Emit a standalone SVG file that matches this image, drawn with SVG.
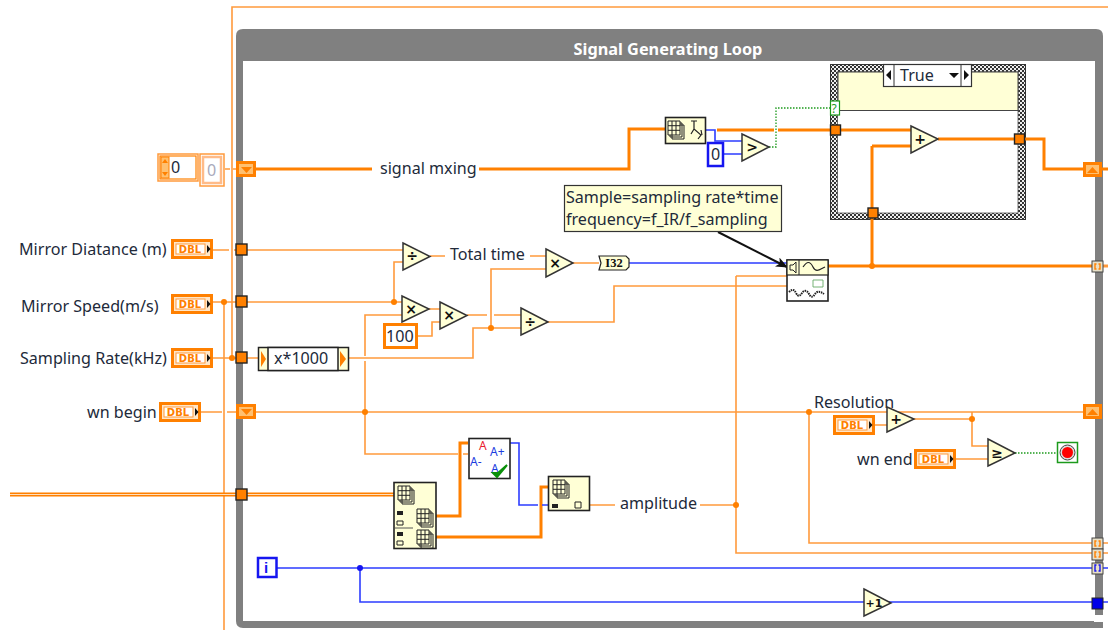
<svg xmlns="http://www.w3.org/2000/svg" width="1108" height="630" viewBox="0 0 1108 630">
<style>
text{font-family:"Noto Sans","Open Sans","DejaVu Sans",sans-serif;font-size:16.100px;fill:#222a3a}
.w{fill:none;stroke:#ff9a3c;stroke-width:1.6}
.t{fill:none;stroke:#ff8000;stroke-width:3}
.b{fill:none;stroke:#2d3dff;stroke-width:1.6}
.g{fill:none;stroke:#1c9a1c;stroke-width:1.3;stroke-dasharray:1.5 1.5}
.d{fill:#ff8000}
.db{fill:#1616f0}
.tri{fill:#ffffd6;stroke:#333;stroke-width:1.5}
.op{font-family:"DejaVu Sans",sans-serif;font-weight:bold;font-size:14px;fill:#111;text-anchor:middle}
.tun{fill:#ff8000;stroke:#222;stroke-width:1.4}
.sr{fill:#ffc070;stroke:#ff8000;stroke-width:3}
.icon{fill:#ffffd6;stroke:#222;stroke-width:1.6}
.dbltxt{font-family:"DejaVu Sans",sans-serif;font-weight:bold;font-size:10px;fill:#ff8000}
.idx{fill:#ffffd6;stroke:#222;stroke-width:1}
.br{fill:#e8e0c8;stroke:#444;stroke-width:1}
.sm{font-size:12px;fill:#1c3ce0}
</style>
<defs>
<pattern id="chk" width="4" height="4" patternUnits="userSpaceOnUse"><rect width="4" height="4" fill="#eee"/><rect width="2" height="2" fill="#333"/><rect x="2" y="2" width="2" height="2" fill="#333"/></pattern>
<g id="dbl"><rect x="1.5" y="1.5" width="39" height="17" fill="#ffe6c8" stroke="#ff8000" stroke-width="3"/><rect x="5" y="5" width="29" height="10" fill="#fff" stroke="#ff9a3c"/><text x="19" y="14" class="dbltxt" text-anchor="middle">DBL</text><path d="M36 6l3.5 4-3.5 4z" fill="#111"/></g>
<g id="grid"><path d="M4 4h12v14H4zM2 2h12v14H2z" fill="#ffffd6" stroke="#222" stroke-width="1"/><path d="M0 0h12v14H0zM0 4.700h12M0 9.300h12M4 0v14M8 0v14" fill="#ffffd6" stroke="#222" stroke-width="1"/></g>
<g id="brO"><rect width="11" height="11" class="br"/><path d="M4.500 3H3v5h1.500M6.500 3H8v5H6.500" fill="none" stroke="#ff8000" stroke-width="1.400"/></g>
<marker id="ah" markerWidth="12" markerHeight="10" refX="11" refY="5" orient="auto" markerUnits="userSpaceOnUse"><path d="M0 0L12 5 0 10 3 5z" fill="#111"/></marker>
</defs>
<rect width="1108" height="630" fill="#fff"/>

<g id="loop-frame">
<path d="M236 621V36q0-7 7-7h853q7 0 7 7v579h-8V61H243V621H1094v1h9v6H243q-7 0-7-7z" fill="#808080"/>
<text x="668" y="55" text-anchor="middle" style="font-size:16.300px;font-weight:bold;fill:#fff">Signal Generating Loop</text>
</g>

<g id="case">
<rect x="830.500" y="64.500" width="195" height="155" fill="url(#chk)" stroke="#333"/>
<rect x="837.500" y="72" width="180.500" height="141" fill="#fff" stroke="#555" stroke-width="0.800"/>
<rect x="838" y="72" width="180" height="38.500" fill="#ffffd6" stroke="#444"/>
<rect x="883.500" y="64.500" width="88" height="22" fill="#fff" stroke="#333" stroke-width="1.200"/><path d="M894 65v21M961 65v21" stroke="#333"/><path d="M891 70l-5 5 5 5zM964 70l5 5-5 5zM949 73h10l-5 5z" fill="#111"/>
<text x="900" y="81">True</text>
<rect x="830.500" y="101" width="9" height="14" fill="#fff" stroke="#1c9a1c" stroke-width="1.200"/><text x="831.500" y="113" style="font-size:12px;fill:#1c9a1c">?</text>
</g>

<g id="connectors">
<path class="w" d="M1108 7H232V358M224 302V630M213 250H229M234 250H236M213 302H236M213 358H236M201 412H222M227 412H236M225 169H230M233 169H236"/>
<path class="w" d="M241 250H403M241 302H402M394 302V262H403M430 256H445M530 256H546M573 263H599"/>
<path class="w" d="M402 315H365V356M365 361V454H458M463 454H468M429 309H440M418 336H432V322H440M467 315H487M494 315H521"/>
<path class="w" d="M241 358H258M349 358H473V328H521M491 328V269H546M548 322H614V286H787"/>
<path class="w" d="M256 412H1083M809 412V543H1108M875 425H887M914 419H972V412H1083M972 419V446H988M956 459H988"/>
<path class="w" d="M590 505H615M700 505H736M736 276V553H1108M736 276H787"/>
<path class="t" d="M256 169H372M479 169H629V129H665M717 130H774M778 130H830M835 130H911M872 146H911M872 146V266M938 139H1019H1044V169H1083M1102 169H1108"/>
<path class="t" d="M828 266H1092"/>
<path d="M1103 266H1108" fill="none" stroke="#ff9a3c" stroke-width="3"/>
<path class="t" d="M436 516H460V443H468M436 537H541V487H548"/>
<path d="M10 494.500H394" fill="none" stroke="#ff8000" stroke-width="4"/>
<path d="M10 494.500H394" fill="none" stroke="#ffe0c0" stroke-width="1.200"/>
<path class="b" d="M629 263H787M706 130H715V141H742M724 154H742M510 443H519V505H538M542 505H548M277 568H1108M360 568V602H1108"/>
<path class="g" d="M769 147H776V108H830M1015 453H1057"/>
<path d="M718 232L787 267" fill="none" stroke="#111" stroke-width="2" marker-end="url(#ah)"/>
<g id="joints"><circle class="d" cx="224" cy="302" r="3"/><circle class="d" cx="232" cy="358" r="3"/><circle class="d" cx="394" cy="302" r="3"/><circle class="d" cx="491" cy="328" r="3"/><circle class="d" cx="365" cy="412" r="3"/><circle class="d" cx="809" cy="412" r="3"/><circle class="d" cx="972" cy="419" r="3"/><circle class="d" cx="736" cy="505" r="3"/><circle class="d" cx="872" cy="266" r="3"/><circle class="db" cx="360" cy="568" r="3"/></g>
</g>

<g id="tunnels">
<rect class="tun" x="236" y="244" width="11" height="11"/><rect class="tun" x="236" y="296" width="11" height="11"/><rect class="tun" x="236" y="352" width="11" height="11"/><rect class="tun" x="236" y="489" width="11" height="11"/>
<rect class="tun" x="830.500" y="125" width="10" height="10"/>
<rect class="tun" x="1014.500" y="134" width="10" height="10"/>
<rect class="tun" x="868" y="208" width="10" height="10"/>
<rect class="sr" x="237.500" y="162.500" width="17" height="13"/><path d="M241 167h11l-5.500 6z" fill="#ff8000"/>
<rect class="sr" x="237.500" y="405.500" width="17" height="12"/><path d="M241 409h11l-5.500 6z" fill="#ff8000"/>
<rect class="sr" x="1084.500" y="163.500" width="16" height="12"/><path d="M1087 173h11l-5.500-6z" fill="#ff8000"/>
<rect class="sr" x="1084.500" y="405.500" width="16" height="12"/><path d="M1087 415h11l-5.500-6z" fill="#ff8000"/>
<use href="#brO" x="1092" y="261"/><use href="#brO" x="1092" y="538"/><use href="#brO" x="1092" y="549"/>
<rect class="br" x="1092" y="563" width="11" height="11"/><path d="M1096.500 565H1095v6h1.500M1098.500 565h1.500v6h-1.500" fill="none" stroke="#1616f0" stroke-width="1.400"/>
<rect x="1092" y="598" width="11" height="11" fill="#0000e8" stroke="#222" stroke-width="1"/>
</g>

<g id="fn-case-add"><path class="tri" d="M911 126L938 139 911 153z"/><text class="op" x="920" y="144">+</text></g>

<g id="ctl-numeric">
<rect x="158" y="154" width="40" height="27" fill="#fff" stroke="#ff9a3c" stroke-width="1.500"/><rect x="160" y="156" width="36" height="23" fill="#fff" stroke="#ff8000" stroke-width="1.200"/><rect x="161" y="157" width="8" height="21" fill="#ffc070" stroke="#ff8000"/><path d="M165 159l-3 4h6zM165 176l-3-4h6z" fill="#ff8000"/>
<text x="171" y="173">0</text>
<rect x="200" y="154" width="24" height="32" fill="#fff" stroke="#ff9a3c" stroke-width="1.500"/><rect x="203" y="157" width="18" height="26" fill="#fff" stroke="#ffbb88" stroke-width="2.500"/><text x="207" y="176" style="fill:#aab">0</text>
</g>
<g id="lbl-signal"><text x="380" y="174">signal mxing</text></g>
<g id="ctl-dist"><text x="19" y="255">Mirror Diatance (m)</text><use href="#dbl" x="171" y="239"/></g>
<g id="ctl-speed"><text x="21" y="312">Mirror Speed(m/s)</text><use href="#dbl" x="171" y="294"/></g>
<g id="ctl-rate"><text x="20" y="364">Sampling Rate(kHz)</text><use href="#dbl" x="171" y="348"/></g>
<g id="ctl-wn"><text x="87" y="418">wn begin</text><use href="#dbl" x="159" y="402"/></g>
<g id="formula"><rect x="258.500" y="347.500" width="90" height="23" fill="#ffffd6" stroke="#222" stroke-width="1.500"/><rect x="268" y="347.500" width="70" height="23" fill="#fff" stroke="#222" stroke-width="1.500"/><path d="M261 351l5 8-5 8zM340 351l6 8-6 8z" fill="#ff8000"/><text x="274" y="364">x*1000</text></g>

<g id="fn-div1"><path class="tri" d="M403 243L430 256.500 403 270z"/><text class="op" x="412" y="261">÷</text></g>
<g id="lbl-total"><text x="450" y="260">Total time</text></g>
<g id="fn-mul1"><path class="tri" d="M402 296L429 309 402 322z"/><text class="op" x="411" y="314">×</text></g>
<g id="const-100"><rect x="384.500" y="324.500" width="32" height="23" fill="#fff" stroke="#ff8000" stroke-width="3"/><text x="386" y="342">100</text></g>
<g id="fn-mul2"><path class="tri" d="M440 302L467 315.500 440 329z"/><text class="op" x="449" y="320">×</text></g>
<g id="fn-div2"><path class="tri" d="M521 308L548 322 521 335z"/><text class="op" x="530" y="327">÷</text></g>
<g id="fn-mul3"><path class="tri" d="M546 249L573 263 546 277z"/><text class="op" x="555" y="268">×</text></g>
<g id="fn-i32"><path d="M599 256H626L629 259V267L626 270H599L601 263z" fill="#ffffd6" stroke="#222" stroke-width="1.200"/><text x="614" y="267" text-anchor="middle" style="font-family:'Liberation Serif',serif;font-weight:bold;font-size:12.500px;fill:#111">I32</text></g>

<g id="fn-size"><rect x="665.500" y="117.500" width="40" height="26" class="icon"/><use href="#grid" x="668" y="121"/><path d="M691 121h6M694 121v8l7 6-3 4M694 129l-3 5M701 130l1 5" fill="none" stroke="#222" stroke-width="1.200"/></g>
<g id="const-0"><rect x="708" y="143" width="15" height="23" fill="#fff" stroke="#1616f0" stroke-width="2.500"/><text x="711" y="160">0</text></g>
<g id="fn-gt"><path class="tri" d="M742 134L769 147 742 161z"/><text class="op" x="752" y="152">&gt;</text></g>

<g id="comment"><rect x="564.500" y="185.500" width="217" height="46" fill="#ffffd6" stroke="#333" stroke-width="1.200"/><text x="566" y="203">Sample=sampling rate*time</text><text x="566" y="225">frequency=f_IR/f_sampling</text></g>
<g id="fn-sim"><rect x="787" y="260" width="41" height="41" fill="#fff" stroke="#222" stroke-width="1.600"/><rect x="787" y="260" width="41" height="15" fill="#ffffd6" stroke="#222" stroke-width="1.200"/><path d="M799 260v15" stroke="#222"/><path d="M790 265h3l3-3v11l-3-3h-3z" fill="#ffffd6" stroke="#222"/><path d="M803 267c4-6 7-6 10 0s6 3 12 0" fill="none" stroke="#222" stroke-width="1.200"/><path d="M813 280h10v7h-10z" fill="none" stroke="#6a6" stroke-width="0.900"/><path d="M789 292c3-3 5-3 7 1s4 3 6 0 5-3 7 1 4 3 6 0 5-3 9 0" fill="none" stroke="#222" stroke-width="2" stroke-dasharray="1.500 0.800"/></g>

<g id="fn-sort"><rect x="469" y="438.500" width="41" height="40" fill="#fff" stroke="#222" stroke-width="1.600"/>
<text x="479" y="449.500" class="sm" style="fill:#e82030">A</text><text x="470" y="466" class="sm">A-</text><text x="490" y="456" class="sm">A+</text><text x="491" y="473" class="sm">A</text>
<path d="M493 473l4 4 10-12-9 8z" fill="#0a900a" stroke="#0a900a" stroke-width="2"/></g>
<g id="fn-index1"><rect x="394" y="482.500" width="42" height="66" class="icon"/><use href="#grid" x="398" y="486"/><use href="#grid" x="417" y="509"/><use href="#grid" x="417" y="530"/><path d="M395 528h18" stroke="#555"/><path d="M397 511h6v4h-6zM397 532h6v4h-6z" fill="#222"/><path d="M397 521h6v4h-6zM397 541h6v4h-6z" fill="none" stroke="#222"/></g>
<g id="fn-index2"><rect x="548.500" y="476.500" width="41" height="34" class="icon"/><use href="#grid" x="553" y="480"/><path d="M552 504h6v4h-6z" fill="#222"/><path d="M575 502h6v6h-6z" fill="none" stroke="#222"/></g>
<g id="lbl-amp"><text x="620" y="509">amplitude</text></g>

<g id="lbl-res"><text x="814" y="408">Resolution</text></g>
<g id="ctl-res"><use href="#dbl" x="833" y="415"/></g>
<g id="fn-add"><path class="tri" d="M887 407L914 419 887 432z"/><text class="op" x="896" y="424">+</text></g>
<g id="ctl-end"><text x="857" y="465">wn end</text><use href="#dbl" x="914" y="449"/></g>
<g id="fn-ge"><path class="tri" d="M988 439L1015 453 988 466z"/><text class="op" x="997" y="458">≥</text></g>
<g id="stop"><rect x="1057.500" y="442.500" width="20" height="20" fill="#fff" stroke="#1c9a1c" stroke-width="1.500"/><circle cx="1067.500" cy="452.500" r="7.500" fill="#ddd" stroke="#444"/><circle cx="1067.500" cy="452.500" r="5.500" fill="#f00"/></g>
<g id="iter"><rect x="258" y="558" width="18.500" height="19" fill="#fff" stroke="#1616f0" stroke-width="2.500"/><text x="264" y="573" style="font-family:'Liberation Sans',sans-serif;font-weight:bold;font-size:15px;fill:#1616f0">i</text></g>
<g id="fn-inc"><path class="tri" d="M864 589L891 603 864 616z"/><text class="op" x="874" y="607" style="font-size:11px">+1</text></g>
</svg>
